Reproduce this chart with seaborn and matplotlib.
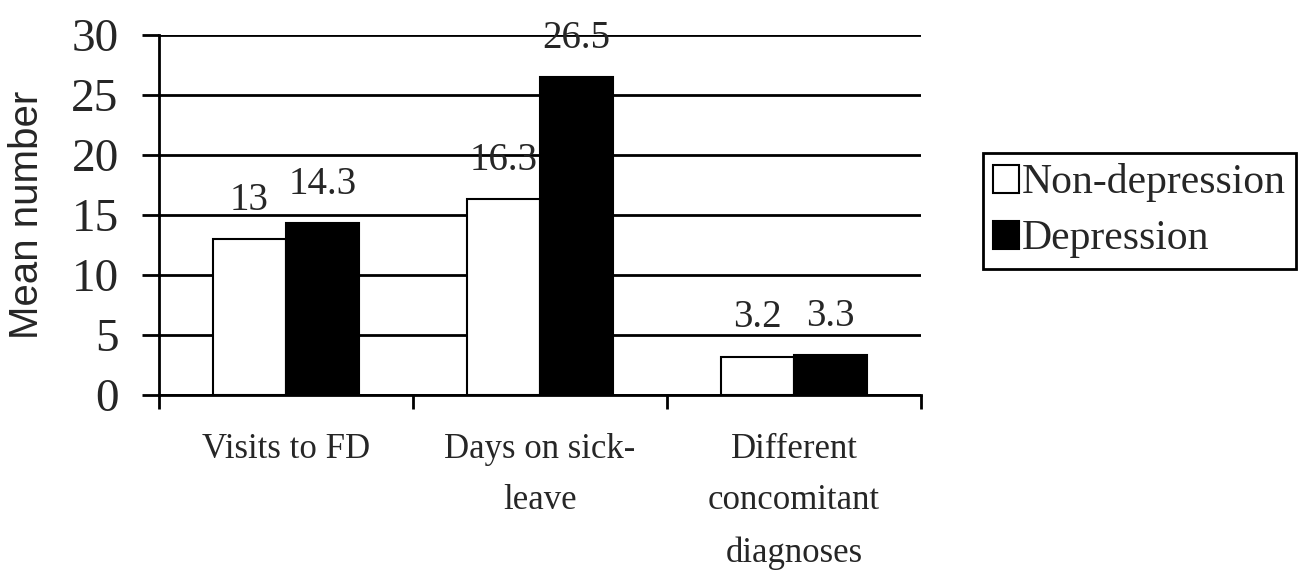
import matplotlib
matplotlib.use("Agg")
import matplotlib.pyplot as plt
from matplotlib.patches import Patch
import seaborn as sns
import pandas as pd

categories = ["Visits to FD", "Days on sick-\nleave", "Different\nconcomitant\ndiagnoses"]
groups = ["Non-depression", "Depression"]
non_depression = [13, 16.3, 3.2]
depression = [14.3, 26.5, 3.3]
value_labels = {"Non-depression": ["13", "16.3", "3.2"],
                "Depression": ["14.3", "26.5", "3.3"]}
y_ticks = [0, 5, 10, 15, 20, 25, 30]

df = pd.DataFrame({
    "category": categories * 2,
    "group": [groups[0]] * 3 + [groups[1]] * 3,
    "mean": non_depression + depression,
})

sns.set_style("white")
plt.rcParams["font.family"] = ["Liberation Serif", "DejaVu Serif"]

fig = plt.figure(figsize=(13.02, 5.72), dpi=100)
ax = fig.add_axes([159 / 1302, 1 - 395 / 572, 762 / 1302, 360 / 572])

sns.barplot(
    data=df, x="category", y="mean", hue="group",
    palette={"Non-depression": "white", "Depression": "black"},
    edgecolor="black", linewidth=1.5, width=0.575,
    saturation=1, legend=False, ax=ax,
)

# value labels above each bar
for container, grp in zip(ax.containers, groups):
    for bar, txt in zip(container, value_labels[grp]):
        ax.annotate(
            txt, (bar.get_x() + bar.get_width() / 2, bar.get_height()),
            xytext=(0, 21), textcoords="offset points",
            ha="center", va="baseline", fontsize=28,
        )

ax.set_ylim(0, 30)
ax.set_xlim(-0.5, 2.5)
ax.set_yticks(y_ticks)
ax.set_yticklabels([str(t) for t in y_ticks], fontsize=34)
ax.tick_params(axis="y", length=12, width=2, pad=17, color="black", left=True)

ax.set_xticks([-0.5, 0.5, 1.5, 2.5])
ax.set_xticklabels([])
ax.tick_params(axis="x", which="major", length=10, width=2, direction="out",
               color="black", bottom=True)
ax.set_xticks([0, 1, 2], minor=True)
ax.set_xticklabels(categories, minor=True, fontsize=25, linespacing=1.75)
ax.tick_params(axis="x", which="minor", length=0, pad=27)

ax.yaxis.grid(True, color="black", linewidth=2)
ax.set_axisbelow(True)
for side in ["top", "right"]:
    ax.spines[side].set_visible(False)
for side in ["left", "bottom"]:
    ax.spines[side].set_color("black")
    ax.spines[side].set_linewidth(2)

ax.set_xlabel("")
ax.set_ylabel("")
fig.text(27 / 1302, 1 - 215 / 572, "Mean number", rotation=90,
         ha="center", va="center", fontsize=29, family="Liberation Sans")

handles = [
    Patch(facecolor="white", edgecolor="black", linewidth=1.5, label=groups[0]),
    Patch(facecolor="black", edgecolor="black", linewidth=1.5, label=groups[1]),
]
leg = fig.legend(
    handles=handles, loc="upper left",
    bbox_to_anchor=(983 / 1302, 1 - 153 / 572),
    fontsize=30, frameon=True, fancybox=False, framealpha=1,
    edgecolor="black", borderpad=0.25, labelspacing=0.42,
    handlelength=0.62, handleheight=0.67, handletextpad=0.05,
    borderaxespad=0,
)
leg.get_frame().set_linewidth(2)

fig.savefig("out.png", dpi=100)
